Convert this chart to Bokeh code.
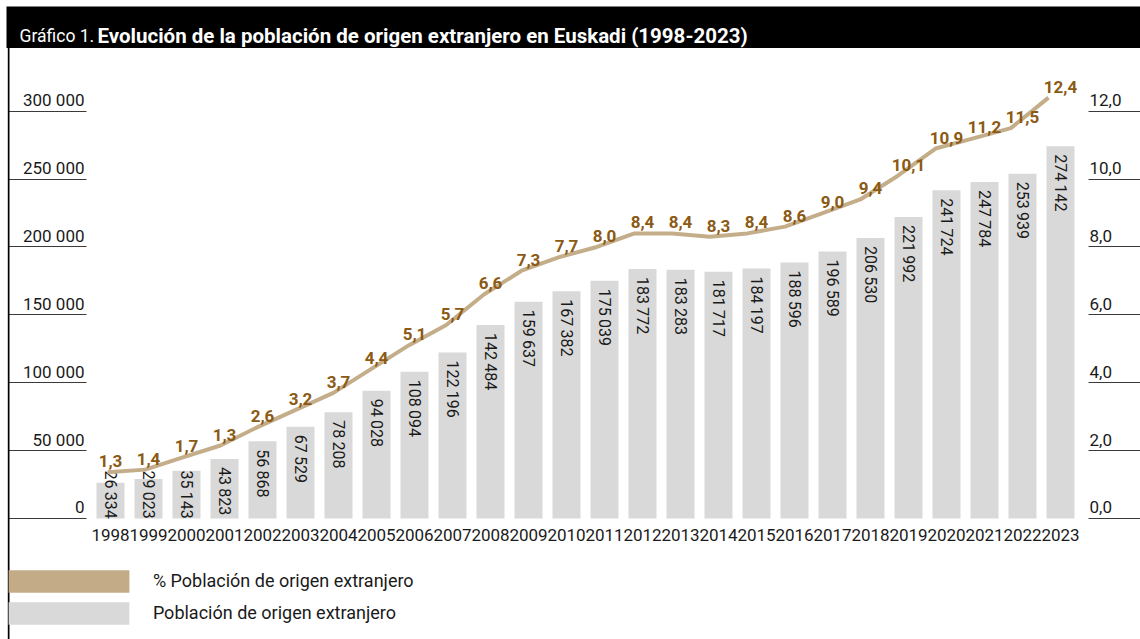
import math
from bokeh.plotting import figure
from bokeh.models import (Range1d, LinearAxis, FixedTicker, BoxAnnotation, Label,
                          Legend, LegendItem)
from bokeh.core.properties import value
from bokeh.embed import file_html
from bokeh.resources import INLINE

# ---------------- data ----------------
years = [1998, 1999, 2000, 2001, 2002, 2003, 2004, 2005, 2006, 2007, 2008, 2009, 2010,
         2011, 2012, 2013, 2014, 2015, 2016, 2017, 2018, 2019, 2020, 2021, 2022, 2023]
population = [26334, 29023, 35143, 43823, 56868, 67529, 78208, 94028, 108094, 122196,
              142484, 159637, 167382, 175039, 183772, 183283, 181717, 184197, 188596,
              196589, 206530, 221992, 241724, 247784, 253939, 274142]
# % labels as printed in the chart
pct_labels = [1.3, 1.4, 1.7, 1.3, 2.6, 3.2, 3.7, 4.4, 5.1, 5.7, 6.6, 7.3, 7.7,
              8.0, 8.4, 8.4, 8.3, 8.4, 8.6, 9.0, 9.4, 10.1, 10.9, 11.2, 11.5, 12.4]
# % line as drawn in the chart
pct_line = [1.36, 1.44, 1.8, 2.15, 2.7, 3.2, 3.7, 4.4, 5.1, 5.7, 6.6, 7.3, 7.7,
            8.0, 8.4, 8.4, 8.3, 8.4, 8.6, 9.0, 9.4, 10.1, 10.9, 11.2, 11.5, 12.4]
left_ticks = [0, 50000, 100000, 150000, 200000, 250000, 300000]
right_ticks = [0, 2, 4, 6, 8, 10, 12]

title_small = "Gráfico 1."
title_main = "Evolución de la población de origen extranjero en Euskadi (1998-2023)"
legend_pct = "% Población de origen extranjero"
legend_pop = "Población de origen extranjero"

# ---------------- styles ----------------
BAR = "#D9D9D9"
LINE = "#C4AD89"
LEG_LINE = "#C4AB88"
BROWN = "#8B5A14"
TXT = "#1a1a1a"
TICK = "#3a3a3a"
FONT = "Roboto"
W, H = 1140, 639
Y0, Y1 = -89124, 381537          # population scale over the whole canvas
P0, P1 = -3.5649, 15.2613        # percentage scale over the whole canvas
LAB_UP = 11                      # tick labels sit 11px above their rule

idx = list(range(len(years)))
px = (Y1 - Y0) / H
ppx = (P1 - P0) / H


def fmt_int(v, sep=" "):
    return f"{v:,}".replace(",", sep)


def fmt_dec(v):
    return f"{v:.1f}".replace(".", ",")


p = figure(width=W, height=H, output_backend="svg", toolbar_location=None,
           x_axis_type=None, y_axis_type=None,
           x_range=Range1d(-2.8947, 27.1053), y_range=Range1d(Y0, Y1),
           min_border=0, min_border_left=0, min_border_right=0,
           min_border_top=0, min_border_bottom=0)
p.outline_line_color = None
p.extra_y_ranges = {"pct": Range1d(P0, P1),
                    "ylab": Range1d(Y0 - LAB_UP * px, Y1 - LAB_UP * px),
                    "pctlab": Range1d(P0 - LAB_UP * ppx, P1 - LAB_UP * ppx)}
p.extra_x_ranges = {"line": Range1d(-2.8427, 27.444)}


def style_axis(ax, size="17px"):
    ax.axis_line_color = None
    ax.minor_tick_line_color = None
    ax.major_tick_in = 0
    ax.major_label_text_font = FONT
    ax.major_label_text_font_size = size
    ax.major_label_text_color = TXT


LEFT_X, RIGHT_X = -0.6316, 25.737

# left axis: rules
ya = LinearAxis(ticker=FixedTicker(ticks=left_ticks), fixed_location=LEFT_X)
style_axis(ya)
ya.major_tick_out = 78
ya.major_tick_line_color = TICK
ya.major_label_text_alpha = 0
p.add_layout(ya, "left")
# left axis: labels (same ticks, drawn just above the rules)
yl = LinearAxis(y_range_name="ylab", ticker=FixedTicker(ticks=left_ticks),
                fixed_location=LEFT_X)
style_axis(yl)
yl.major_label_overrides = {t: fmt_int(t) for t in left_ticks}
yl.major_tick_out = 0
yl.major_tick_line_color = None
yl.major_label_standoff = 2
p.add_layout(yl, "left")

# right axis: rules
ra = LinearAxis(y_range_name="pct", ticker=FixedTicker(ticks=right_ticks),
                fixed_location=RIGHT_X)
style_axis(ra)
ra.major_tick_out = 52
ra.major_tick_line_color = TICK
ra.major_label_text_alpha = 0
p.add_layout(ra, "right")
# right axis: labels
rl = LinearAxis(y_range_name="pctlab", ticker=FixedTicker(ticks=right_ticks),
                fixed_location=RIGHT_X)
style_axis(rl)
rl.major_label_overrides = {t: fmt_dec(t) for t in right_ticks}
rl.major_tick_out = 0
rl.major_tick_line_color = None
rl.major_label_standoff = 1
p.add_layout(rl, "right")

# x axis
xa = LinearAxis(ticker=FixedTicker(ticks=idx), fixed_location=0)
style_axis(xa)
xa.major_label_overrides = {i: str(y) for i, y in zip(idx, years)}
xa.major_tick_line_color = None
xa.major_tick_out = 0
xa.major_label_standoff = 11
p.add_layout(xa, "below")

# bars
bars = p.vbar(x=idx, top=population, width=0.737, fill_color=BAR, line_color=None)
# labels start 8px under the bar top, but are lifted when they would not fit
min_anchor = 56 * px
label_y = [max(v, min_anchor) for v in population]
p.text(x=idx, y=label_y, text=[fmt_int(v, "\u2009") for v in population],
       angle=-math.pi / 2, text_align="left", text_baseline="middle", y_offset=8,
       text_font=value(FONT), text_font_size="16px", text_color=TXT)

# line
p.line(x=idx, y=pct_line, x_range_name="line", y_range_name="pct",
       line_color=LINE, line_width=4, line_join="round")
p.text(x=idx, y=pct_line, y_range_name="pct", text=[fmt_dec(v) for v in pct_labels],
       text_align="center", text_baseline="alphabetic", y_offset=-11,
       text_font=value(FONT), text_font_style="bold", text_font_size="17px",
       text_color=BROWN)
# legend proxy for the % series (zero-height bars on the line points)
proxy = p.vbar(x=idx, top=pct_line, bottom=pct_line, width=0, x_range_name="line",
               y_range_name="pct", fill_color=LEG_LINE, line_color=None)

# title bar & frame line (screen units, origin bottom-left of the canvas)
p.add_layout(BoxAnnotation(left=6, right=W, top=H - 6, bottom=H - 47.5,
                           left_units="screen", right_units="screen",
                           top_units="screen", bottom_units="screen",
                           fill_color="black", fill_alpha=1, line_color=None))
p.add_layout(BoxAnnotation(left=7.3, right=9, top=H - 47.5, bottom=0,
                           left_units="screen", right_units="screen",
                           top_units="screen", bottom_units="screen",
                           fill_color="black", fill_alpha=1, line_color=None))
p.add_layout(Label(x=19, y=H - 35.5, x_units="screen", y_units="screen", text=title_small,
                   text_color="white", text_font=FONT, text_font_style="normal",
                   text_font_size="17.5px", text_baseline="alphabetic"))
p.add_layout(Label(x=97, y=H - 35.5, x_units="screen", y_units="screen", text=title_main,
                   text_color="white", text_font=FONT, text_font_style="bold",
                   text_font_size="20.5px", text_baseline="alphabetic"))

# legend (area glyphs are drawn with a 10% inset inside the glyph box)
gw, gh = 121 / 0.8, 22 / 0.8
legend = Legend(items=[LegendItem(label=legend_pct, renderers=[proxy]),
                       LegendItem(label=legend_pop, renderers=[bars])],
                location=(8 - gw * 0.1, H - 624 - gh * 0.1), orientation="vertical",
                glyph_width=round(gw), glyph_height=round(gh), spacing=4, padding=0,
                margin=0, label_standoff=9, border_line_color=None,
                background_fill_alpha=0, label_text_font=FONT,
                label_text_font_size="18px", label_text_color=TXT, label_height=22)
p.add_layout(legend)

open("out.html", "w").write(file_html(p, INLINE))
